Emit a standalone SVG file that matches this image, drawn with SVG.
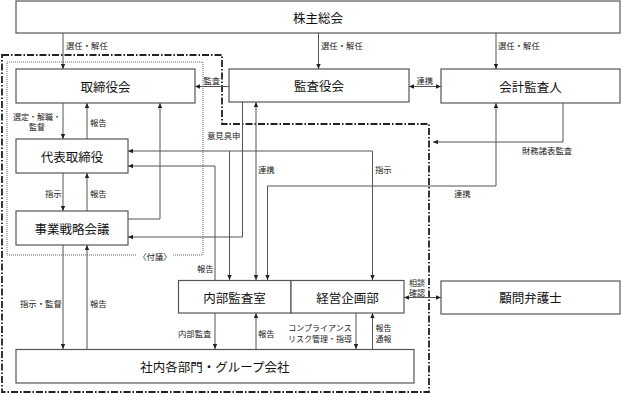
<svg xmlns="http://www.w3.org/2000/svg" width="621" height="394" viewBox="0 0 621 394">
<style>
.box{fill:#fff;stroke:#555;stroke-width:1.2}
.bt{font-family:"Noto Sans CJK JP","Noto Sans",sans-serif;font-size:12.5px;fill:#111;text-anchor:middle;dominant-baseline:central}
.lb{font-family:"Noto Sans CJK JP","Noto Sans",sans-serif;font-size:8.4px;fill:#222;dominant-baseline:central}
.s2{font-size:8px}
.m{text-anchor:middle}
.ln{fill:none;stroke:#555;stroke-width:1}
.ar{marker-end:url(#ah)}
.ab{marker-start:url(#ah);marker-end:url(#ah)}
</style>
<defs>
<marker id="ah" viewBox="0 0 8 8" refX="8" refY="4" markerWidth="5" markerHeight="5" markerUnits="userSpaceOnUse" orient="auto-start-reverse">
<path d="M0,0.5 L8,4 L0,7.5 z" fill="#222"/>
</marker>
</defs>
<rect width="621" height="394" fill="#fff"/>
<g id="frames">
<path d="M2,55 H222 V124 H429 V392 H2 Z" fill="none" stroke="#222" stroke-width="1.8" stroke-dasharray="7 2 1.5 2"/>
<rect x="7" y="62" width="196" height="193" fill="none" stroke="#666" stroke-width="1" stroke-dasharray="1 1"/>
<rect x="137" y="250" width="36" height="10" fill="#fff"/>
<text class="lb m" x="155" y="255.5">〈付議〉</text>
</g>
<g id="connectors">
<path class="ln ar" d="M63,33 V69"/>
<path class="ln ar" d="M318.5,33 V69"/>
<path class="ln ar" d="M496,33 V69"/>
<path class="ln ar" d="M229,86.5 H195"/>
<path class="ln ab" d="M409,86.5 H441"/>
<path class="ln ar" d="M63,103 V139"/>
<path class="ln ar" d="M87,139 V103"/>
<path class="ln ar" d="M128,219 H160 V103"/>
<path class="ln ar" d="M63,173 V211"/>
<path class="ln ar" d="M87,211 V173"/>
<path class="ln ar" d="M372.5,151 H128"/>
<path class="ln ar" d="M372.5,151 V280"/>
<path class="ln ar" d="M229.5,151 V280"/>
<path class="ln ar" d="M215,280 V166 H128"/>
<path class="ln ar" d="M242.5,102 V237 H128"/>
<path class="ln ab" d="M256,102 V280"/>
<path class="ln ab" d="M267.5,280 V186 H496 V103"/>
<path class="ln ar" d="M563,103 V142 H433"/>
<path class="ln ab" d="M404,297.5 H441"/>
<path class="ln ar" d="M63,245 V349"/>
<path class="ln ar" d="M87,349 V245"/>
<path class="ln ar" d="M215,313 V349"/>
<path class="ln ar" d="M256,349 V313"/>
<path class="ln ar" d="M356,313 V349"/>
<path class="ln ar" d="M372.5,349 V313"/>
<text class="lb" x="66" y="45">選任・解任</text>
<text class="lb" x="321" y="45">選任・解任</text>
<text class="lb" x="498" y="45">選任・解任</text>
<text class="lb" x="203.5" y="80">監査</text>
<text class="lb" x="416.5" y="79.5">連携</text>
<text class="lb s2 m" x="37" y="116.5">選定・解職・</text>
<text class="lb s2 m" x="37" y="126.5">監督</text>
<text class="lb" x="90" y="122">報告</text>
<text class="lb" x="45" y="192.5">指示</text>
<text class="lb" x="90" y="192.5">報告</text>
<text class="lb" x="207" y="135">意見具申</text>
<text class="lb" x="258" y="168.5">連携</text>
<text class="lb" x="375" y="168.5">指示</text>
<text class="lb" x="454" y="193">連携</text>
<text class="lb" x="522" y="149.5">財務諸表監査</text>
<text class="lb" x="197" y="268">報告</text>
<text class="lb s2 m" x="417" y="282.5">相談</text>
<text class="lb s2 m" x="417" y="292">確認</text>
<text class="lb" x="20" y="303">指示・監督</text>
<text class="lb" x="90" y="303">報告</text>
<text class="lb" x="178" y="333">内部監査</text>
<text class="lb" x="258" y="333">報告</text>
<text class="lb s2 m" x="320" y="327.5">コンプライアンス</text>
<text class="lb s2 m" x="320" y="338">リスク管理・指導</text>
<text class="lb s2 m" x="383.5" y="327.5">報告</text>
<text class="lb s2 m" x="383.5" y="338">通報</text>
</g>
<g id="n-kabunushi"><rect class="box" x="16" y="1" width="604" height="32"/><text class="bt" x="318" y="17.5">株主総会</text></g>
<g id="n-torishimariyakukai"><rect class="box" x="16" y="69" width="179" height="34"/><text class="bt" x="105.5" y="86">取締役会</text></g>
<g id="n-kansayakukai"><rect class="box" x="229" y="69" width="180" height="33"/><text class="bt" x="319" y="85.5">監査役会</text></g>
<g id="n-kaikeikansanin"><rect class="box" x="441" y="69" width="179" height="34"/><text class="bt" x="530.5" y="86">会計監査人</text></g>
<g id="n-daihyo"><rect class="box" x="16" y="139" width="112" height="34"/><text class="bt" x="72" y="156">代表取締役</text></g>
<g id="n-jigyosenryaku"><rect class="box" x="16" y="211" width="112" height="34"/><text class="bt" x="72" y="228">事業戦略会議</text></g>
<g id="n-naibukansa"><rect class="box" x="178.5" y="280.5" width="112.5" height="32.5"/><text class="bt" x="234.5" y="297">内部監査室</text></g>
<g id="n-keieikikaku"><rect class="box" x="291" y="280.5" width="113" height="32.5"/><text class="bt" x="347.5" y="297">経営企画部</text></g>
<g id="n-komon"><rect class="box" x="441" y="281" width="179" height="33"/><text class="bt" x="530.5" y="297.5">顧問弁護士</text></g>
<g id="n-shanai"><rect class="box" x="16" y="349.5" width="398" height="33.5"/><text class="bt" x="215" y="366">社内各部門・グループ会社</text></g>
</svg>
